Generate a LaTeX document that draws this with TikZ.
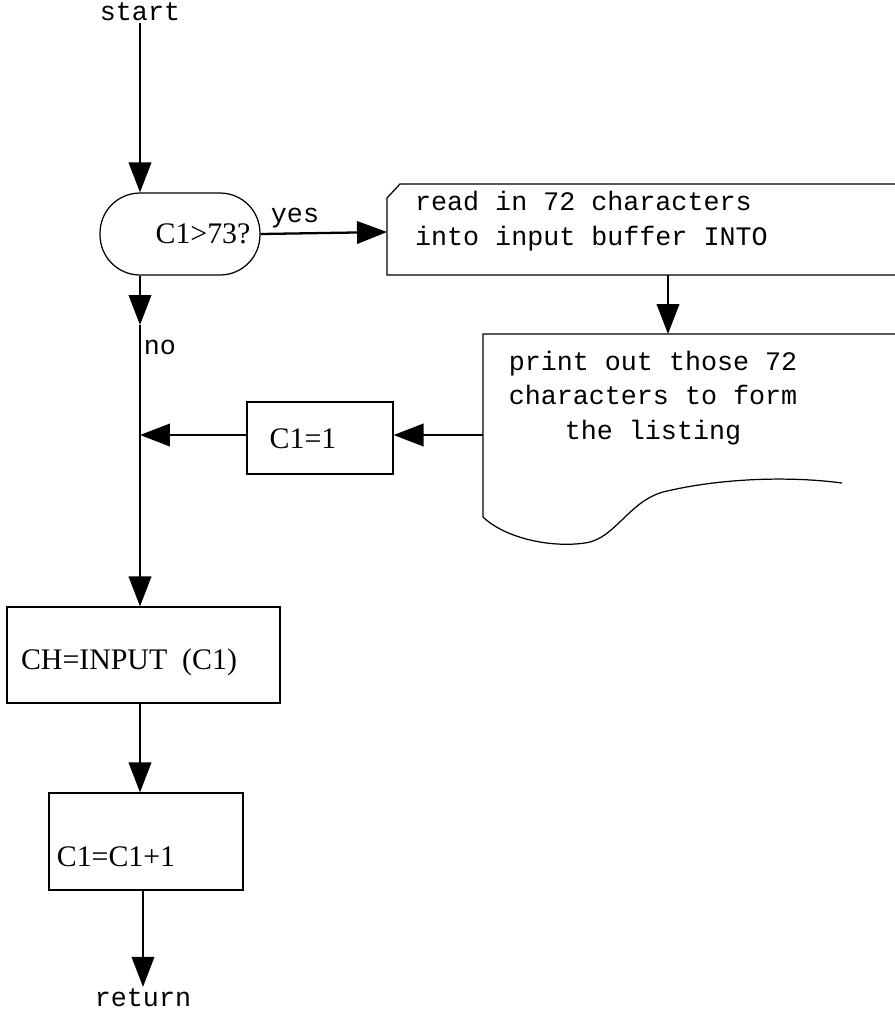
\documentclass[tikz,border=0pt]{standalone}
\usepackage{fontspec}
\setmainfont{Liberation Serif}
\setmonofont{Liberation Mono}
\usetikzlibrary{arrows.meta}

\begin{document}
\begin{tikzpicture}[
  x=0.02cm, y=-0.02cm,
  flow/.style={draw,line width=1.3pt,-{Triangle[length=0.6cm,width=0.45cm]}},
  box/.style={draw,line width=0.7pt,inner sep=0pt},
  lbl/.style={font=\ttfamily\fontsize{15.2}{19.8}\selectfont,inner sep=1pt},
  stmt/.style={font=\fontsize{17}{20}\selectfont,inner sep=1pt}
]
  \useasboundingbox (0,0) rectangle (895,1012);

  % main column
  \node[lbl] (start) at (140,12) {start};
  \node[box,rounded corners=0.8cm,minimum width=3.2cm,minimum height=1.64cm] (test) at (180,234) {};
  \node[stmt] (test-txt) at (203,234) {C1>73?};
  \node[lbl] (no) at (160,347) {no};
  \node[box,minimum width=5.46cm,minimum height=1.92cm] (inbox) at (143.5,655) {};
  \node[stmt] (inbox-txt) at (129,662) {CH=INPUT\ \ (C1)};
  \node[box,minimum width=3.88cm,minimum height=1.94cm] (incr) at (146,841.5) {};
  \node[stmt] (incr-txt) at (116,857) {C1=C1+1};
  \node[lbl] (ret) at (143,998) {return};

  % right side
  \node[lbl] (yes) at (295,218) {yes};
  \node[lbl,align=left,anchor=west] (read) at (413,221) {read in 72 characters\\into input buffer INTO};
  \draw[line width=0.7pt] (895,184) -- (400,184) -- (387,198) -- (387,275) -- (895,275);
  \coordinate (read-in) at (387,232);
  \coordinate (read-out) at (668,275);

  \node[lbl,align=center] (print) at (653,398) {print out those 72\\characters to form\\the listing};
  \draw[line width=0.7pt] (895,334) -- (483,334) -- (483,517)
    .. controls (505,538) and (550,548) .. (585,543)
    .. controls (615,539) and (628,502) .. (663,492)
    .. controls (720,478) and (790,476) .. (842,483);
  \coordinate (print-in) at (668,334);
  \coordinate (print-out) at (483,435);

  \node[box,minimum width=2.92cm,minimum height=1.44cm] (reset) at (320,438) {};
  \node[stmt] (reset-txt) at (303,439) {C1=1};

  % connectors
  \coordinate (mid) at (140,325);
  \coordinate (join) at (140,435);
  \draw[flow] (start.south) -- (start.south |- test.north);
  \draw[flow] (test.east) -- (read-in);
  \draw[flow] (read-out) -- (print-in);
  \draw[flow] (print-out) -- (reset.east |- print-out);
  \draw[flow] (reset.west |- join) -- (join);
  \draw[flow] (mid |- test.south) -- (mid);
  \draw[line width=1.3pt] (mid) -- (join);
  \draw[flow] (join) -- (inbox.north -| mid);
  \draw[flow] (inbox.south -| mid) -- (incr.north -| mid);
  \draw[flow] (incr.south -| ret) -- (ret.north);
\end{tikzpicture}
\end{document}
